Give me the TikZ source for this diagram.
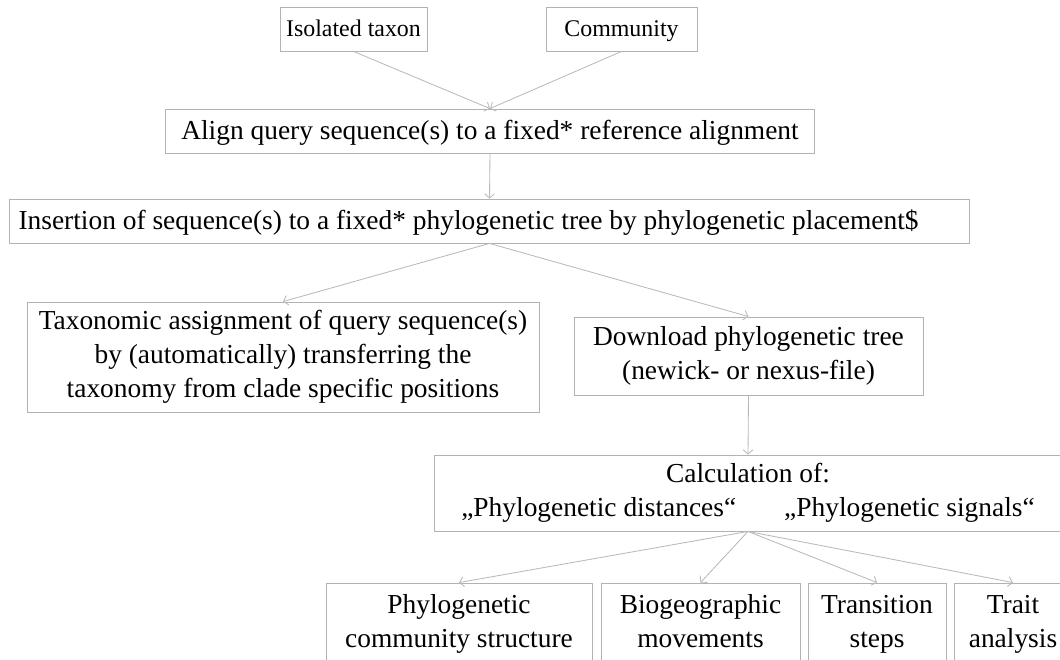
\documentclass[tikz,border=0pt]{standalone}
\usepackage{fontspec}
\setmainfont{Liberation Serif}
\usetikzlibrary{arrows.meta}

\newcommand{\boxstrut}{\rule[-0.2em]{0pt}{1.05em}}

\begin{document}
\begin{tikzpicture}[x=0.025cm, y=-0.025cm,
  box/.style={draw=gray!60, line width=0.6pt, align=center, inner sep=0pt,
    font=\fontsize{19.5}{24}\selectfont,
    execute at begin node=\boxstrut, execute at end node=\boxstrut},
  smallbox/.style={box, font=\fontsize{17}{20}\selectfont, minimum height=1.1cm},
  leafbox/.style={box, minimum height=2.05cm},
  link/.style={draw=gray!55, line width=0.6pt, -{Straight Barb[length=3pt,width=7pt]}}]

  % --- canvas ---
  \useasboundingbox (0,0) rectangle (1060,659);
  \clip (0,0) rectangle (1060,659);

  % --- sample sources ---
  \node[smallbox, minimum width=3.675cm] (iso) at (353.5,29) {Isolated taxon};
  \node[smallbox, minimum width=3.775cm] (comm) at (621.5,29) {Community};

  % --- alignment and placement ---
  \node[box, minimum width=16.2cm, minimum height=1.1cm] (align) at (490,131)
    {Align query sequence(s) to a fixed* reference alignment};
  \node[box, minimum width=23.975cm, minimum height=1.1cm] (insert) at (489.5,221)
    {Insertion of sequence(s) to a fixed* phylogenetic tree by phylogenetic placement\$\hspace*{1.05cm}};

  % --- outputs of the placement ---
  \node[box, minimum width=12.8cm, minimum height=2.75cm] (taxo) at (283,357)
    {Taxonomic assignment of query sequence(s)\\
     by (automatically) transferring the\\
     taxonomy from clade specific positions};
  \node[box, minimum width=8.725cm, minimum height=1.95cm] (down) at (748.5,356)
    {Download phylogenetic tree\\(newick- or nexus-file)};

  % --- calculation ---
  \node[box, minimum width=15.7cm, minimum height=1.9cm] (calc) at (748,493)
    {Calculation of:\\
     „Phylogenetic distances“\hspace*{1.2cm}„Phylogenetic signals“};

  % --- analyses ---
  \node[leafbox, minimum width=6.65cm] (phyc) at (459,624)
    {Phylogenetic\\community structure};
  \node[leafbox, minimum width=4.975cm] (bio) at (700.5,624)
    {Biogeographic\\movements};
  \node[leafbox, minimum width=3.45cm] (trans) at (877,624)
    {Transition\\steps};
  \node[leafbox, minimum width=2.95cm] (trait) at (1013,624)
    {Trait\\analysis};

  % --- connectors ---
  \draw[link] (iso.south) -- (align.north);
  \draw[link] (comm.south) -- (align.north);
  \draw[link] (align.south) -- (insert.north);
  \draw[link] (insert.south) -- (taxo.north);
  \draw[link] (insert.south) -- (down.north);
  \draw[link] (down.south) -- (calc.north);
  \foreach \leaf in {phyc, bio, trans, trait}
    \draw[link] (calc.south) -- (\leaf.north);

\end{tikzpicture}
\end{document}
